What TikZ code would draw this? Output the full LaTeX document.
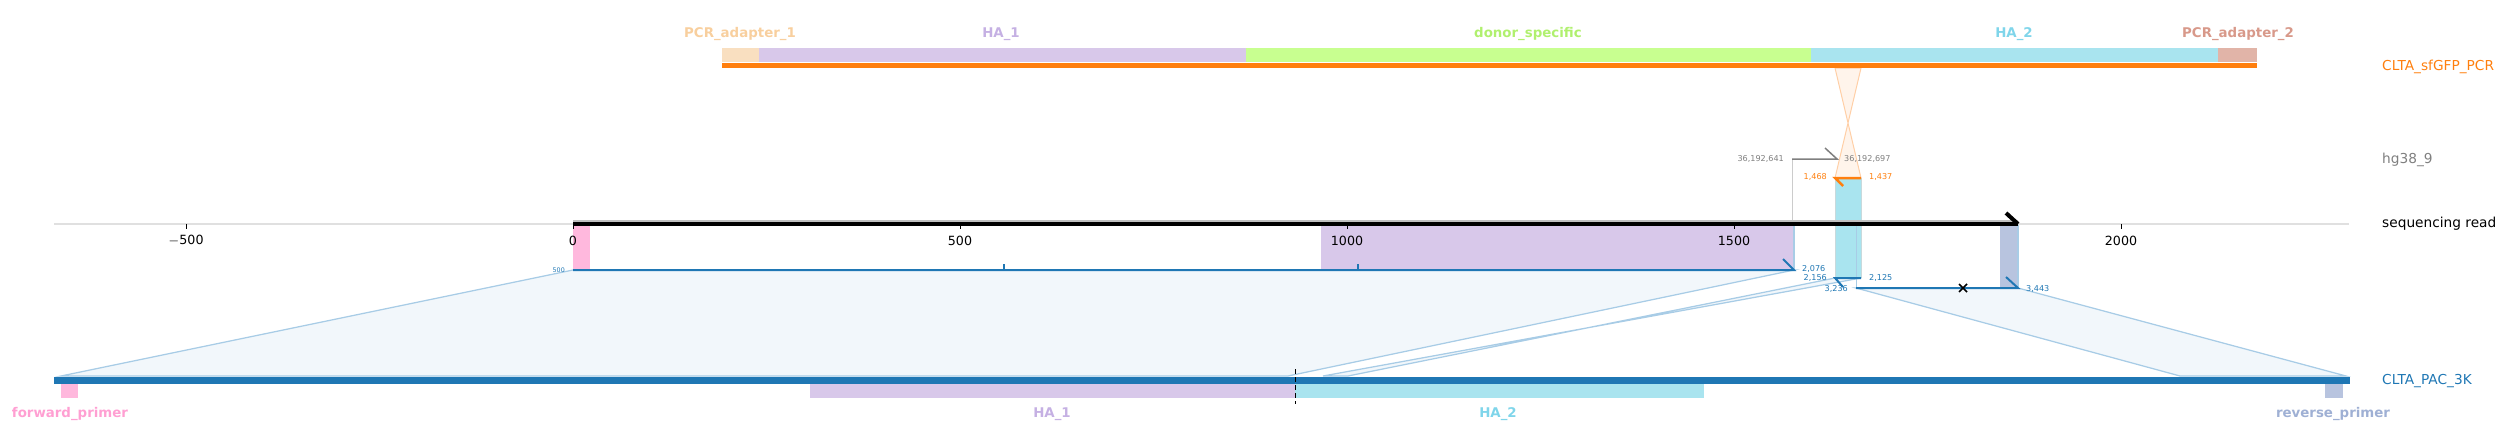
\documentclass[tikz,border=0pt]{standalone}
\usepackage{fontspec}
\setmainfont{DejaVu Sans}
\definecolor{pcrorange}{HTML}{FF7F0E}
\definecolor{pacblue}{HTML}{1F77B4}
\definecolor{hggrey}{HTML}{7F7F7F}
\definecolor{adapA}{HTML}{F9DFC0}
\definecolor{adapAtxt}{HTML}{F8CF9E}
\definecolor{haA}{HTML}{D8C8EA}
\definecolor{haAtxt}{HTML}{C5B0E3}
\definecolor{donor}{HTML}{C8FF90}
\definecolor{donortxt}{HTML}{B0F06E}
\definecolor{haB}{HTML}{A9E4EF}
\definecolor{haBtxt}{HTML}{7FD5EA}
\definecolor{adapB}{HTML}{E1B4A8}
\definecolor{adapBtxt}{HTML}{D8998A}
\definecolor{fwd}{HTML}{FFB8DD}
\definecolor{fwdtxt}{HTML}{FF9FD2}
\definecolor{rev}{HTML}{B8C4DF}
\definecolor{revtxt}{HTML}{9FB0D4}
\definecolor{bandfill}{HTML}{F2F7FB}
\definecolor{bandline}{HTML}{A8CCE6}
\definecolor{hourfill}{HTML}{FFF4EB}
\definecolor{hourline}{HTML}{FFCFA6}

\begin{document}
\begin{tikzpicture}[x=0.2mm,y=-0.2mm,
  trk/.style={anchor=west,font=\fontsize{7.8}{9}\selectfont},
  feat/.style={font=\bfseries\fontsize{7.6}{9}\selectfont},
  tck/.style={font=\fontsize{7.2}{8}\selectfont},
  num/.style={font=\fontsize{4.6}{5}\selectfont},
  band/.style={fill=bandfill,draw=bandline,line width=0.25mm}]
  \useasboundingbox (0,0) rectangle (2504,448);

  % alignment bands read -> CLTA_PAC_3K
  \draw[band] (573,270) -- (1794,270) -- (1288,376) -- (61,376) -- cycle;
  \draw[band] (1835,278) -- (1861,278) -- (1323,376) -- (1348,376) -- cycle;
  \draw[band] (1856,288) -- (2018,288) -- (2346,376) -- (2180,376) -- cycle;

  % donor -> read (reversed)
  \draw[fill=hourfill,draw=hourline,line width=0.2mm] (1835,68) -- (1861,178) -- (1835,178) -- (1861,68) -- cycle;

  % features projected on read
  \fill[fwd] (573,224) rectangle (590,270);
  \fill[haA] (1321,224) rectangle (1794,270);
  \draw[bandline,line width=0.25mm] (1794,224) -- (1794,270);
  \fill[rev] (2000,224) rectangle (2018,288);
  \draw[bandline,line width=0.25mm] (2018,224) -- (2018,288);
  \fill[haB] (1835,178) rectangle (1861,278);
  \draw[haB!70!black!40,line width=0.15mm] (1835,178) -- (1835,278) (1861,178) -- (1861,278);
  \draw[bandline,line width=0.2mm] (1856,224) -- (1856,288);
  \draw[black!20,line width=0.2mm] (1792,159) -- (1792,224);

  % axis
  \draw[black!12,line width=0.3mm] (54,224) -- (2349,224);
  \foreach \u/\t in {-500/$-$500,0/0,500/500,1000/1000,1500/1500,2000/2000}{
    \draw[line width=0.2mm] ({573+0.774*\u},224) -- ({573+0.774*\u},229);
    \node[tck] at ({573+0.774*\u},241) {\t};
  }
  \draw[black!25,line width=1.1mm] (573,223) -- (2018,223);
  \draw[line width=0.8mm] (573,224) -- (2018,224);
  \draw[line width=0.8mm] (2018,224) -- (2006,213);

  % donor PCR product
  \foreach \xa/\xb/\c in {722/759/adapA,759/1246/haA,1246/1811/donor,1811/2218/haB,2218/2257/adapB}
    \fill[\c] (\xa,48) rectangle (\xb,62);
  \draw[pcrorange,line width=1mm] (722,65) -- (2257,65);
  \node[feat,text=adapAtxt] (fPA1) at (740,34) {PCR\_adapter\_1};
  \node[feat,text=haAtxt] (fHA1) at (1001,34) {HA\_1};
  \node[feat,text=donortxt] (fDS) at (1528,34) {donor\_specific};
  \node[feat,text=haBtxt] (fHA2) at (2014,34) {HA\_2};
  \node[feat,text=adapBtxt] (fPA2) at (2238,34) {PCR\_adapter\_2};

  % hg38 hit
  \draw[hggrey,line width=0.3mm] (1792,159) -- (1837,159) -- (1825,148);
  \node[num,text=hggrey,anchor=east] (g1) at (1790,159) {36,192,641};
  \node[num,text=hggrey,anchor=west] (g2) at (1838,159) {36,192,697};

  % donor hit
  \draw[pcrorange,line width=0.5mm] (1843,186) -- (1835,178) -- (1861,178);
  \node[num,text=pcrorange,anchor=east] (o1) at (1833,177) {1,468};
  \node[num,text=pcrorange,anchor=west] (o2) at (1863,177) {1,437};

  % CLTA_PAC_3K hits
  \draw[pacblue,line width=0.4mm] (573,270) -- (1794,270) -- (1783,259);
  \foreach \x in {1004,1358} \draw[pacblue,line width=0.4mm] (\x,270) -- (\x,264);
  \node[num,text=pacblue,anchor=east,font=\fontsize{3.6}{4}\selectfont] (b0) at (571,270) {500};
  \node[num,text=pacblue,anchor=west] (b1) at (1796,269) {2,076};
  \draw[pacblue,line width=0.4mm] (1843,287) -- (1835,278) -- (1861,278);
  \node[num,text=pacblue,anchor=east] (b2) at (1833,278) {2,156};
  \node[num,text=pacblue,anchor=west] (b3) at (1863,278) {2,125};
  \draw[pacblue,line width=0.4mm] (1856,288) -- (2018,288) -- (2006,277);
  \node[num,text=pacblue,anchor=east] (b4) at (1854,289) {3,236};
  \node[num,text=pacblue,anchor=west] (b5) at (2020,289) {3,443};
  \draw[line width=0.3mm] (1959,284) -- (1967,292) (1959,292) -- (1967,284);

  % CLTA_PAC_3K
  \fill[fwd] (61,383) rectangle (78,398);
  \fill[haA] (810,383) rectangle (1295,398);
  \fill[haB] (1295,383) rectangle (1704,398);
  \fill[rev] (2325,383) rectangle (2343,398);
  \draw[pacblue,line width=1.4mm] (54,380) -- (2350,380);
  \draw[dashed,line width=0.2mm,dash pattern=on 1mm off 0.6mm] (1295,369) -- (1295,404);
  \node[feat,text=fwdtxt] (fFP) at (70,414) {forward\_primer};
  \node[feat,text=haAtxt] (fHA1b) at (1052,414) {HA\_1};
  \node[feat,text=haBtxt] (fHA2b) at (1498,414) {HA\_2};
  \node[feat,text=revtxt] (fRP) at (2333,414) {reverse\_primer};

  % track names
  \node[trk,text=pcrorange] (tPCR) at (2376,67) {CLTA\_sfGFP\_PCR};
  \node[trk,text=hggrey] (tHG) at (2376,160) {hg38\_9};
  \node[trk] (tRead) at (2376,224) {sequencing read};
  \node[trk,text=pacblue] (tPAC) at (2376,381) {CLTA\_PAC\_3K};
\end{tikzpicture}
\end{document}
